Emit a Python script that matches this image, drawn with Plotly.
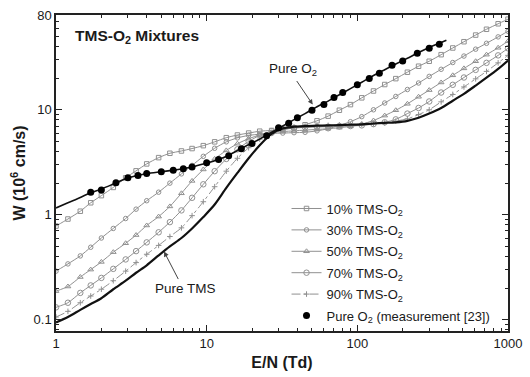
import plotly.graph_objects as go
import numpy as np

# E/N grid (Td) used for calculated curves
en = [1, 1.2, 1.45, 1.7, 2, 2.4, 2.9, 3.4, 4, 4.8, 5.7, 6.8, 8, 9.5, 11.3, 13.5, 16, 19,
      22.5, 27, 32, 38, 45, 54, 64, 76, 90, 107, 128, 152, 180, 215, 255, 300, 360,
      430, 510, 610, 720, 860, 1000]

w_10 = [0.78, 0.91, 1.08, 1.30, 1.52, 1.82, 2.25, 2.62, 3.05, 3.50, 3.85, 4.05, 4.27, 4.55,
        4.95, 5.42, 5.75, 6.0, 6.25, 6.35, 6.45, 6.75, 7.2, 7.85, 8.7, 9.9, 11.2, 13.0,
        15.1, 17.4, 19.8, 22.8, 26.0, 29.0, 33.5, 38.8, 44.5, 51.5, 58.5, 66.0, 73.0]
w_30 = [0.29, 0.34, 0.405, 0.49, 0.60, 0.74, 0.92, 1.13, 1.36, 1.64, 2.0, 2.45, 2.95, 3.6,
        4.3, 4.95, 5.4, 5.7, 5.85, 5.95, 6.0, 6.05, 6.1, 6.3, 6.6, 7.1, 7.7, 8.6, 10.0,
        11.6, 13.4, 15.6, 18.0, 20.8, 24.3, 28.2, 32.5, 37.8, 43.0, 49.5, 56.0]
w_50 = [0.187, 0.207, 0.255, 0.30, 0.355, 0.44, 0.535, 0.64, 0.79, 0.96, 1.2, 1.6, 2.1, 2.7,
        3.4, 4.1, 4.75, 5.3, 5.75, 6.05, 6.2, 6.3, 6.4, 6.5, 6.6, 6.75, 6.95, 7.3, 7.9,
        8.8, 9.9, 11.4, 13.3, 15.4, 18.2, 21.3, 24.8, 29.0, 33.5, 39.0, 45.0]
w_70 = [0.131, 0.145, 0.18, 0.212, 0.25, 0.305, 0.375, 0.45, 0.545, 0.68, 0.85, 1.1, 1.45,
        1.95, 2.6, 3.4, 4.2, 5.0, 5.7, 6.25, 6.55, 6.7, 6.8, 6.85, 6.9, 6.95, 7.0, 7.1,
        7.3, 7.6, 8.1, 9.2, 10.4, 12.0, 14.6, 17.3, 20.3, 24.0, 28.0, 33.0, 38.5]
w_90 = [0.106, 0.12, 0.145, 0.168, 0.195, 0.235, 0.29, 0.35, 0.42, 0.51, 0.62, 0.75, 0.98,
        1.33, 1.85, 2.6, 3.45, 4.35, 5.25, 6.1, 6.6, 6.85, 7.0, 7.05, 7.1, 7.15, 7.2, 7.25,
        7.35, 7.5, 7.8, 8.2, 9.0, 10.0, 11.9, 14.0, 16.5, 19.7, 23.2, 28.0, 33.0]
w_tms = [0.094, 0.106, 0.124, 0.141, 0.16, 0.195, 0.235, 0.28, 0.33, 0.41, 0.50, 0.60, 0.74,
         0.95, 1.25, 1.8, 2.5, 3.45, 4.6, 5.9, 6.65, 6.9, 7.0, 7.05, 7.1, 7.15, 7.2, 7.25,
         7.4, 7.5, 7.6, 7.85, 8.4, 9.2, 10.4, 12.2, 14.2, 17.0, 20.2, 24.5, 29.5]

# Calculated pure O2 curve
en_o2 = [1, 1.2, 1.45, 1.7, 2, 2.4, 2.9, 3.4, 4, 4.8, 5.7, 6.8, 8, 9.5, 11.3, 13.5, 16, 19,
         22.5, 27, 32, 38, 45, 54, 64, 76, 90, 107, 128, 152, 180, 215, 255, 300, 360, 390]
w_o2 = [1.16, 1.30, 1.46, 1.62, 1.76, 1.96, 2.2, 2.35, 2.46, 2.55, 2.63, 2.73, 2.85, 3.05,
        3.27, 3.58, 4.1, 4.65, 5.25, 6.1, 7.0, 8.05, 9.2, 10.7, 12.1, 13.9, 15.9, 18.3,
        21.2, 24.1, 27.3, 31.0, 35.1, 39.2, 43.8, 46.0]

# Pure O2 measurement [23]
en_meas = [1.7, 2.0, 2.5, 3.0, 3.5, 4.0, 5.0, 6.0, 7.0, 8.0, 10, 12, 14, 17, 20, 25, 30, 35,
           40, 50, 60, 70, 80, 100, 120, 140, 170, 200, 250, 300, 350]
w_meas = [1.64, 1.72, 2.02, 2.25, 2.37, 2.47, 2.57, 2.65, 2.74, 2.85, 3.12, 3.35, 3.65, 4.25,
          4.78, 5.65, 6.75, 7.45, 8.4, 9.9, 11.2, 13.1, 14.6, 17.3, 19.9, 22.3, 26.5, 29.2,
          34.5, 38.5, 42.0]

x_ticks = [1, 10, 100, 1000]
x_ticklabels = ["1", "10", "100", "1000"]
y_ticks = [0.1, 1, 10, 80]
y_ticklabels = ["0.1", "1", "10", "80"]

FONT = "Arial, Liberation Sans, Helvetica, sans-serif"
GRAY = "#909090"
TXT = "#1a1a1a"

fig = go.Figure()

mixtures = [
    ("10% TMS-O<sub>2</sub>", w_10, "square-open", 4.5, "solid"),
    ("30% TMS-O<sub>2</sub>", w_30, "circle-open", 4.5, "solid"),
    ("50% TMS-O<sub>2</sub>", w_50, "triangle-up-open", 5, "solid"),
    ("70% TMS-O<sub>2</sub>", w_70, "circle-open", 5.5, "solid"),
    ("90% TMS-O<sub>2</sub>", w_90, "cross-thin-open", 4, "dashdot"),
]
for i, (name, w, sym, sz, dash) in enumerate(mixtures):
    fig.add_trace(go.Scatter(
        x=en, y=w, name=name, mode="lines+markers", legendgroup=f"g{i}",
        line=dict(color=GRAY, width=1, dash=dash, shape="spline", smoothing=0.6),
        marker=dict(symbol=sym, size=sz, color=GRAY, line=dict(color=GRAY, width=1)),
    ))

fig.add_trace(go.Scatter(x=en, y=w_tms, mode="lines", showlegend=False,
                         line=dict(color="#111111", width=2.2, shape="spline", smoothing=0.8)))
fig.add_trace(go.Scatter(x=en_o2, y=w_o2, mode="lines", showlegend=False,
                         line=dict(color="#111111", width=1.6, shape="spline", smoothing=0.8)))
fig.add_trace(go.Scatter(x=en_meas, y=w_meas, mode="markers", legendgroup="g9",
                         name="Pure O<sub>2</sub> (measurement [23])",
                         marker=dict(symbol="circle", size=7, color="#000000")))

def minor_vals(lo, hi):
    vals = []
    for d in range(lo, hi):
        for m in range(2, 10):
            vals.append(m * 10 ** d)
    return vals

xminor = minor_vals(0, 3)
yminor = [v for v in minor_vals(-2, 2) if 0.078 <= v <= 80]

fig.update_xaxes(
    type="log", range=[0, 3], tickvals=x_ticks, ticktext=x_ticklabels,
    ticks="inside", ticklen=6, tickwidth=1.2, tickcolor="#222",
    minor=dict(tickvals=xminor, ticks="inside", ticklen=3, tickwidth=1, tickcolor="#222"),
    showline=True, linecolor="#222", linewidth=1.5, mirror="allticks",
    showgrid=False, zeroline=False,
    tickfont=dict(family=FONT, size=13, color=TXT),
    title=dict(text="<b>E/N (Td)</b>", font=dict(family=FONT, size=16, color=TXT), standoff=6),
)
fig.update_yaxes(
    type="log", range=[np.log10(0.078), np.log10(80)], tickvals=y_ticks, ticktext=y_ticklabels,
    ticks="inside", ticklen=6, tickwidth=1.2, tickcolor="#222",
    minor=dict(tickvals=yminor, ticks="inside", ticklen=3, tickwidth=1, tickcolor="#222"),
    showline=True, linecolor="#222", linewidth=1.5, mirror="allticks",
    showgrid=False, zeroline=False,
    tickfont=dict(family=FONT, size=13, color=TXT),
    title=dict(text="<b>W (10<sup>6</sup> cm/s)</b>", font=dict(family=FONT, size=16, color=TXT),
               standoff=4),
)

annotations = [
    dict(x=0.112, y=1.694, xref="x", yref="y", text="<b>TMS-O<sub>2</sub> Mixtures</b>",
         showarrow=False, xanchor="left", yanchor="middle",
         font=dict(family=FONT, size=15.5, color=TXT)),
    dict(x=1.572, y=1.387, xref="x", yref="y", text="Pure O<sub>2</sub>",
         showarrow=False, xanchor="center", yanchor="middle",
         font=dict(family=FONT, size=13.5, color=TXT)),
    dict(x=1.704, y=1.05, xref="x", yref="y", text="", showarrow=True,
         ax=-17, ay=-25, arrowhead=2, arrowsize=1, arrowwidth=1, arrowcolor="#444"),
    dict(x=0.862, y=-0.703, xref="x", yref="y", text="Pure TMS",
         showarrow=False, xanchor="center", yanchor="middle",
         font=dict(family=FONT, size=13.5, color=TXT)),
    dict(x=0.717, y=-0.351, xref="x", yref="y", text="", showarrow=True,
         ax=15, ay=29, arrowhead=2, arrowsize=1, arrowwidth=1, arrowcolor="#444"),
]

fig.update_layout(
    width=530, height=377,
    margin=dict(l=56, r=20, t=8, b=35),
    paper_bgcolor="white", plot_bgcolor="white",
    font=dict(family=FONT, color=TXT),
    annotations=annotations,
    legend=dict(x=0.51, y=0.435, xanchor="left", yanchor="top",
                bgcolor="rgba(0,0,0,0)", borderwidth=0,
                font=dict(family=FONT, size=13, color=TXT),
                tracegroupgap=1.5, itemwidth=30),
)

fig.write_html("out.html")
